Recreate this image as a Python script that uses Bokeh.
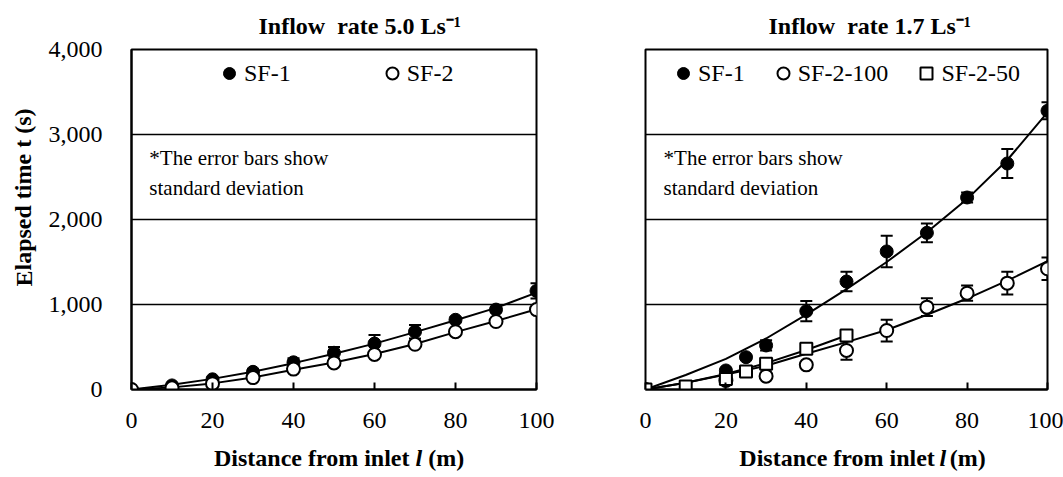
from bokeh.plotting import figure
from bokeh.models import (Range1d, FixedTicker, NumeralTickFormatter, Whisker, TeeHead,
                          ColumnDataSource, Label, Legend, LegendItem)
from bokeh.layouts import row, column
from bokeh.embed import file_html
from bokeh.resources import INLINE

# ---------------- data ----------------
# Left panel: inflow rate 5.0 L/s
l_left = [0, 10, 20, 30, 40, 50, 60, 70, 80, 90, 100]
t5_sf1 = [0, 48, 120, 208, 320, 432, 540, 680, 820, 940, 1160]
t5_sf1_sd = [0, 15, 20, 30, 48, 68, 100, 80, 30, 30, 90]
t5_sf2 = [0, 20, 68, 140, 240, 312, 412, 532, 680, 800, 940]
t5_sf2_sd = [0, 10, 15, 20, 20, 20, 20, 20, 20, 20, 25]
fit5_sf1 = [0, 55, 125, 210, 310, 420, 540, 675, 815, 960, 1140]
fit5_sf2 = [0, 25, 72, 142, 232, 318, 418, 535, 675, 805, 945]

# Right panel: inflow rate 1.7 L/s
l_sf1 = [0, 20, 25, 30, 40, 50, 60, 70, 80, 90, 100]
t17_sf1 = [0, 224, 380, 518, 922, 1270, 1624, 1843, 2259, 2659, 3278]
t17_sf1_sd = [0, 20, 20, 60, 118, 114, 185, 110, 60, 170, 100]
l_sf2_100 = [0, 20, 30, 40, 50, 60, 70, 80, 90, 100]
t17_sf2_100 = [0, 106, 157, 290, 459, 694, 969, 1133, 1251, 1420]
t17_sf2_100_sd = [0, 20, 20, 30, 108, 128, 105, 90, 133, 133]
l_sf2_50 = [0, 10, 20, 25, 30, 40, 50]
t17_sf2_50 = [0, 35, 125, 212, 302, 478, 635]

l_fit = [0, 10, 20, 30, 40, 50, 60, 70, 80, 90, 100]
fit17_sf1 = [0, 170, 360, 600, 880, 1180, 1500, 1850, 2240, 2700, 3260]
fit17_sf2_100 = [0, 80, 175, 280, 420, 557, 700, 880, 1070, 1280, 1510]
l_fit50 = [0, 10, 20, 30, 40, 50]
fit17_sf2_50 = [0, 80, 183, 310, 465, 635]

x_ticks = [0, 20, 40, 60, 80, 100]
y_ticks = [0, 1000, 2000, 3000, 4000]
grid_ticks = [1000, 2000, 3000]

titles = ["Inflow\u00a0 rate 5.0 Ls\u207b\u00b9", "Inflow\u00a0 rate 1.7 Ls\u207b\u00b9"]
x_label = ["Distance from inlet", "l", "(m)"]
y_label = "Elapsed time t (s)"
note = ["*The error bars show", "standard deviation"]

SERIF = "Liberation Serif"
TICK_FS = "24px"
PH = 439  # height of the plot figures


def make_fig(width, left, right, show_y, title, title_offset):
    p = figure(width=width, height=PH, x_range=Range1d(0, 100), y_range=Range1d(0, 4000),
               output_backend="svg", toolbar_location=None, title=title,
               min_border_left=left, min_border_right=right,
               min_border_top=49, min_border_bottom=50)
    p.title.text_font = SERIF
    p.title.text_font_size = "24px"
    p.title.text_font_style = "bold"
    p.title.text_color = "black"
    p.title.align = "left"
    p.title.offset = title_offset
    p.title.standoff = 21
    p.background_fill_color = "white"
    p.border_fill_color = "white"
    p.outline_line_color = "black"
    p.outline_line_width = 2
    p.xgrid.visible = False
    p.ygrid.ticker = FixedTicker(ticks=grid_ticks)
    p.ygrid.grid_line_color = "black"
    p.ygrid.grid_line_width = 1.5

    p.xaxis.ticker = FixedTicker(ticks=x_ticks)
    p.xaxis.axis_line_color = "black"
    p.xaxis.axis_line_width = 2
    p.xaxis.major_tick_in = 7
    p.xaxis.major_tick_out = 0
    p.xaxis.major_tick_line_width = 2
    p.xaxis.minor_tick_line_color = None
    p.xaxis.major_label_text_font = SERIF
    p.xaxis.major_label_text_font_size = TICK_FS
    p.xaxis.major_label_text_color = "black"
    p.xaxis.major_label_standoff = 23

    p.yaxis.ticker = FixedTicker(ticks=y_ticks)
    p.yaxis.formatter = NumeralTickFormatter(format="0,0")
    p.yaxis.axis_line_color = "black"
    p.yaxis.axis_line_width = 2
    p.yaxis.major_tick_in = 0
    p.yaxis.major_tick_out = 0
    p.yaxis.minor_tick_line_color = None
    p.yaxis.major_label_text_font = SERIF
    p.yaxis.major_label_text_font_size = TICK_FS
    p.yaxis.major_label_text_color = "black"
    p.yaxis.major_label_standoff = 29
    if not show_y:
        p.yaxis.visible = False
    return p


def text_fig(w, h):
    f = figure(width=w, height=h, x_range=Range1d(0, w), y_range=Range1d(0, h),
               x_axis_type=None, y_axis_type=None, toolbar_location=None,
               output_backend="svg", min_border=0)
    f.outline_line_color = None
    f.background_fill_color = "white"
    f.border_fill_color = "white"
    return f


def add_err(p, xs, ys, sds):
    src = ColumnDataSource(dict(x=xs, lo=[y - s for y, s in zip(ys, sds)],
                                hi=[y + s for y, s in zip(ys, sds)]))
    w = Whisker(source=src, base="x", lower="lo", upper="hi", line_width=2, line_color="black",
                upper_head=TeeHead(size=12, line_width=2, line_color="black"),
                lower_head=TeeHead(size=12, line_width=2, line_color="black"))
    p.add_layout(w)


def text(p, x, y, s, size="21px", style="normal", align="left", baseline="middle", angle=0):
    p.add_layout(Label(x=x, y=y, text=s, text_font=SERIF, text_font_size=size,
                       text_font_style=style, text_align=align, text_baseline=baseline,
                       text_color="black", angle=angle))


def legend(items, loc, spacing):
    return Legend(items=items, orientation="horizontal", location=loc, spacing=spacing,
                  padding=0, margin=0, glyph_width=30, glyph_height=30, label_height=30,
                  label_standoff=-3, label_text_font=SERIF, label_text_font_size="24px",
                  label_text_color="black", border_line_alpha=0, background_fill_alpha=0)


# ---------------- left panel ----------------
p1 = make_fig(515, 85, 24, True, titles[0], 127)
p1.line(l_left, fit5_sf1, line_color="black", line_width=2)
p1.line(l_left, fit5_sf2, line_color="black", line_width=2)
add_err(p1, l_left, t5_sf1, t5_sf1_sd)
add_err(p1, l_left, t5_sf2, t5_sf2_sd)
r1 = p1.scatter(l_left, t5_sf1, marker="circle", size=13, fill_color="black", line_color="black")
r2 = p1.scatter(l_left, t5_sf2, marker="circle", size=13, fill_color="white", line_color="black",
                line_width=2)
p1.add_layout(legend([LegendItem(label="SF-1", renderers=[r1]),
                      LegendItem(label="SF-2", renderers=[r2])], (83, 301), 86))
text(p1, 4.4, 2718, note[0])
text(p1, 4.4, 2376, note[1])

xl1 = text_fig(560, 38)
text(xl1, 409, 20, x_label[0], size="24px", style="bold", align="right")
text(xl1, 415, 20, x_label[1], size="24px", style="bold italic", align="left")
text(xl1, 427.7, 20, x_label[2], size="24px", style="bold", align="left")

yl1 = text_fig(45, PH)
text(yl1, 23, 133, y_label, size="24px", style="bold", align="left", angle=1.5708)

# ---------------- right panel ----------------
p2 = make_fig(503, 85, 16, False, titles[1], 123)
p2.line(l_fit, fit17_sf1, line_color="black", line_width=2)
p2.line(l_fit, fit17_sf2_100, line_color="black", line_width=2)
p2.line(l_fit50, fit17_sf2_50, line_color="black", line_width=2)
add_err(p2, l_sf1, t17_sf1, t17_sf1_sd)
add_err(p2, l_sf2_100, t17_sf2_100, t17_sf2_100_sd)
s1 = p2.scatter(l_sf1, t17_sf1, marker="circle", size=13, fill_color="black", line_color="black")
s2 = p2.scatter(l_sf2_100, t17_sf2_100, marker="circle", size=13, fill_color="white",
                line_color="black", line_width=2)
s3 = p2.scatter(l_sf2_50, t17_sf2_50, marker="square", size=12, fill_color="white",
                line_color="black", line_width=2)
p2.add_layout(legend([LegendItem(label="SF-1", renderers=[s1]),
                      LegendItem(label="SF-2-100", renderers=[s2]),
                      LegendItem(label="SF-2-50", renderers=[s3])], (23, 301), 23))
text(p2, 4.5, 2718, note[0])
text(p2, 4.5, 2376, note[1])

xl2 = text_fig(503, 38)
text(xl2, 362, 20, x_label[0], size="24px", style="bold", align="right")
text(xl2, 368, 20, x_label[1], size="24px", style="bold italic", align="left")
text(xl2, 380.7, 20, x_label[2], size="24px", style="bold", align="left")

left_col = column(row(yl1, p1), xl1)
right_col = column(p2, xl2)
layout = row(left_col, right_col)
open("out.html", "w").write(file_html(layout, INLINE))
